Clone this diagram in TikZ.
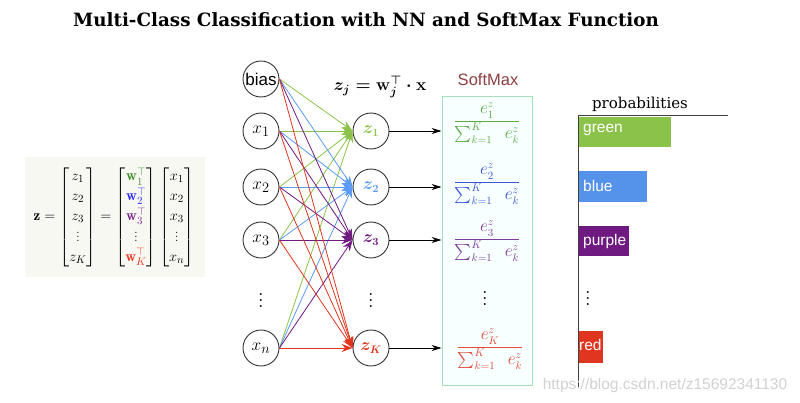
\documentclass[tikz,border=0pt]{standalone}
\usepackage{amsmath,amssymb}
\usepackage{fontspec}
\newfontfamily\slabfont{DejaVu Serif}
\newfontfamily\robofont{Liberation Sans}
\usetikzlibrary{arrows.meta}
\definecolor{mygreen}{HTML}{8BC34A}
\definecolor{myblue}{HTML}{5A9AF6}
\definecolor{mypurple}{HTML}{6E1A80}
\definecolor{myred}{HTML}{E0351E}
\definecolor{fgreen}{HTML}{5DAA45}
\definecolor{fblue}{HTML}{3A55D8}
\definecolor{fpurple}{HTML}{7D3C98}
\definecolor{fred}{HTML}{E04A3A}
\definecolor{wgreen}{HTML}{3E8E2A}
\definecolor{wblue}{HTML}{2B2BFF}
\definecolor{wpurple}{HTML}{7A2A8A}
\definecolor{wred}{HTML}{E8361F}
\definecolor{mybg}{HTML}{F8F8F3}
\newcommand{\mysoft}[1]{$\displaystyle\frac{e^{z}_{#1}}{\sum_{k=1}^{K}\ \ e^{z}_{k}}$}
\tikzset{myneuron/.style={circle,draw=black!80,line width=0.9pt,minimum size=36,inner sep=0pt,font=\fontsize{19}{22}\selectfont}}
\tikzset{mydots/.style={scale=1.45,font=\fontsize{14}{16}\selectfont}}
\tikzset{myedge/.style={line width=0.8pt,-{Stealth[length=11pt,width=8pt]}}}
\tikzset{myfrac/.style={font=\fontsize{16}{19}\selectfont}}
\tikzset{mybarlabel/.style={anchor=west,inner sep=0pt,text=white,font=\robofont\fontsize{15.5}{18}\selectfont}}

\begin{document}
\begin{tikzpicture}[x=1pt,y=-1pt]
	\useasboundingbox (0,0) rectangle (800,403);

	\node[font=\slabfont\bfseries\fontsize{18.3}{22}\selectfont] (title) at (366,20) {Multi-Class Classification with NN and SoftMax Function};

	% Matrix form
	\fill[mybg] (25,157) rectangle (205,277);
	\node[font=\fontsize{15}{13.6}\selectfont] (zeq) at (114,217) {$\renewcommand{\arraystretch}{1.45}\mathbf{z}=\begin{bmatrix}z_1\\z_2\\z_3\\\vdots\\z_K\end{bmatrix}=\begin{bmatrix}\color{wgreen}\mathbf{w}_1^\top\\\color{wblue}\mathbf{w}_2^\top\\\color{wpurple}\mathbf{w}_3^\top\\\vdots\\\color{wred}\mathbf{w}_K^\top\end{bmatrix}\begin{bmatrix}x_1\\x_2\\x_3\\\vdots\\x_n\end{bmatrix}$};

	% Input layer
	\node[myneuron,font=\robofont\fontsize{17}{20}\selectfont] (b) at (261,79) {bias};
	\node[myneuron] (x1) at (261,131) {$x_1$};
	\node[myneuron] (x2) at (261,187) {$x_2$};
	\node[myneuron] (x3) at (261,240) {$x_3$};
	\node[mydots] (xdots) at (261,296) {$\vdots$};
	\node[myneuron] (xn) at (261,348) {$x_n$};

	% Output layer
	\node[myneuron,text=mygreen,font=\fontsize{16}{19}\selectfont] (z1) at (371,131) {$\boldsymbol{z_1}$};
	\node[myneuron,text=myblue,font=\fontsize{16}{19}\selectfont] (z2) at (371,187) {$\boldsymbol{z_2}$};
	\node[myneuron,text=mypurple,font=\fontsize{16}{19}\selectfont] (z3) at (371,240) {$\boldsymbol{z_3}$};
	\node[mydots] (zdots) at (371,296) {$\vdots$};
	\node[myneuron,text=myred,font=\fontsize{16}{19}\selectfont] (zK) at (371,348) {$\boldsymbol{z_K}$};

	\node[font=\fontsize{18}{21}\selectfont] (zform) at (380,87) {$\boldsymbol{z_j=\mathbf{w}_j^\top\cdot\mathbf{x}}$};

	% Weights
	\foreach \o/\c in {z1/mygreen,z2/myblue,z3/mypurple,zK/myred}
		\foreach \i in {b,x1,x2,x3,xn}
			\draw[myedge,\c] (\i.east) -- (\o.west);

	% SoftMax
	\node[draw=cyan!20!green!35,fill=green!4!cyan!3,line width=0.9pt,minimum width=90,minimum height=289,inner sep=0pt] (sm) at (487,240.5) {};
	\node[text=red!40!black!75,font=\robofont\fontsize{16.5}{19}\selectfont] (smlabel) at (488,80) {SoftMax};
	\foreach \z in {z1,z2,z3,zK}
		\draw[line width=0.8pt,-{Stealth[length=10pt,width=6pt]}] (\z.east) -- (\z.east -| sm.west);
	\node[myfrac,text=fgreen] (f1) at (487,123) {\mysoft{1}};
	\node[myfrac,text=fblue] (f2) at (487,184) {\mysoft{2}};
	\node[myfrac,text=fpurple] (f3) at (487,241) {\mysoft{3}};
	\node[mydots] (fdots) at (485,294) {$\vdots$};
	\node[myfrac,text=fred] (fK) at (490,349) {\mysoft{K}};

	% Probabilities
	\draw[black!75,line width=1pt] (578,387) -- (578,116) -- (728,116);
	\node[font=\slabfont\fontsize{15}{18}\selectfont] (plabel) at (640,104) {probabilities};
	\fill[mygreen] (579,117) rectangle (671,147);
	\fill[myblue!95!black] (579,171) rectangle (647,202);
	\fill[mypurple] (579,226) rectangle (629,256);
	\fill[myred] (579,331) rectangle (603,363);
	\node[mybarlabel] (pgreen) at (583,130) {green};
	\node[mybarlabel] (pblue) at (583,186) {blue};
	\node[mybarlabel] (ppurple) at (583,241) {purple};
	\node[mydots] (pdots) at (588,294) {$\vdots$};
	\node[mybarlabel] (pred) at (579,345) {red};

	\node[text=black!18,font=\robofont\fontsize{15.5}{18}\selectfont] (mark) at (665,385) {https://blog.csdn.net/z15692341130};
\end{tikzpicture}
\end{document}
